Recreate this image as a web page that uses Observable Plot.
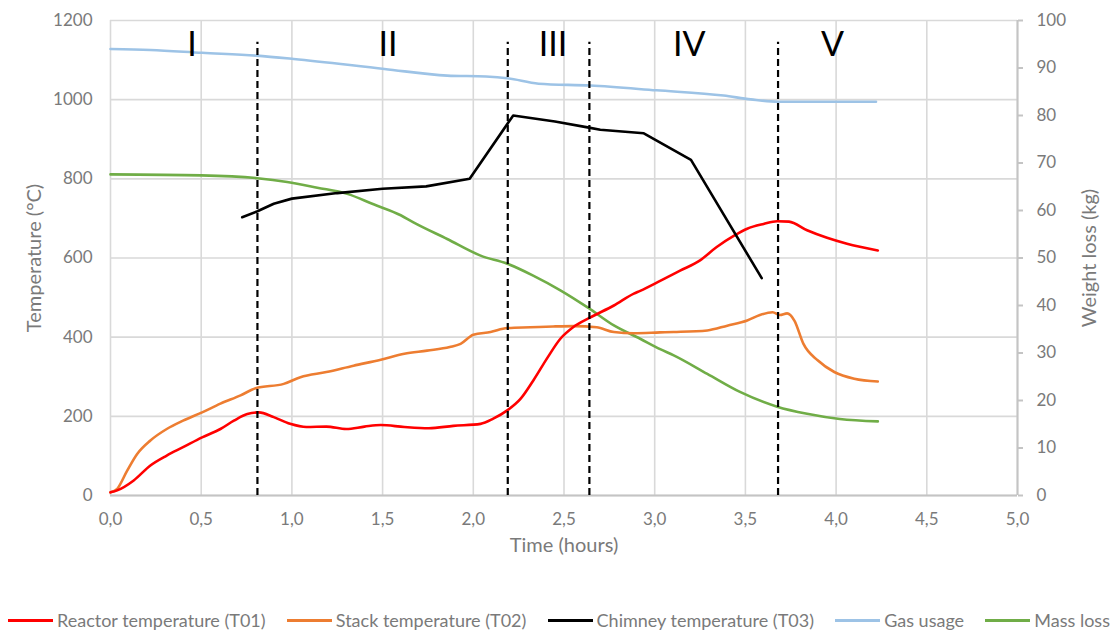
<!DOCTYPE html>
<html>
<head>
<meta charset="utf-8">
<script src="https://cdn.jsdelivr.net/npm/d3@7"></script>
<script src="https://cdn.jsdelivr.net/npm/@observablehq/plot@0.6"></script>
<style>
  body { margin: 0; background: #fff; font-family: Lato, "Open Sans", sans-serif; }
  #chart { position: relative; width: 1114px; height: 633px; }
  .legend {
    position: absolute; left: 8px; right: 4px; top: 609px; height: 22px;
    display: flex; justify-content: space-between; align-items: center;
    font-size: 18px; color: #7a7a7a;
  }
  .item { display: flex; align-items: center; white-space: nowrap; }
  .sw { width: 45px; height: 3px; margin-right: 4px; }
</style>
</head>
<body>
<div id="chart"></div>
<script>
// Time in hours, temperatures in °C (left axis)
const reactorTemp = [
  [0, 8], [0.037, 13], [0.128, 38], [0.22, 76], [0.31, 101], [0.40, 122], [0.505, 147],
  [0.606, 168], [0.68, 189], [0.754, 206], [0.818, 210], [0.90, 198], [0.99, 181],
  [1.08, 173], [1.19, 174], [1.30, 168], [1.40, 174], [1.49, 178], [1.62, 173],
  [1.755, 170], [1.89, 176], [2.04, 181], [2.11, 194], [2.187, 215], [2.26, 244],
  [2.33, 290], [2.41, 349], [2.48, 396], [2.55, 425], [2.646, 450], [2.775, 480],
  [2.885, 510], [2.92, 517], [3.03, 542], [3.14, 568], [3.25, 594], [3.34, 627],
  [3.44, 657], [3.51, 674], [3.60, 686], [3.675, 693], [3.74, 692], [3.84, 670],
  [3.95, 651], [4.06, 636], [4.23, 619]
];
const stackTemp = [
  [0, 8], [0.037, 17], [0.092, 63], [0.147, 105], [0.22, 139], [0.31, 168], [0.40, 189],
  [0.505, 210], [0.606, 232], [0.717, 253], [0.80, 271], [0.955, 282], [1.047, 299],
  [1.19, 312], [1.34, 328], [1.49, 343], [1.62, 358], [1.745, 366], [1.87, 375],
  [1.93, 383], [2.0, 406], [2.095, 413], [2.187, 423], [2.315, 425], [2.44, 427],
  [2.555, 428], [2.68, 425], [2.775, 413], [2.885, 410], [3.03, 412], [3.105, 413],
  [3.29, 417], [3.40, 429], [3.51, 442], [3.58, 456], [3.65, 463], [3.69, 456],
  [3.73, 460], [3.77, 442], [3.82, 383], [3.90, 341], [3.99, 312], [4.10, 295], [4.23, 288]
];
const chimneyTemp = [
  [0.726, 703], [0.81, 718], [0.90, 737], [1.0, 750], [1.25, 764], [1.5, 775], [1.74, 781],
  [1.98, 800], [2.22, 960], [2.45, 945], [2.63, 930], [2.70, 924], [2.94, 915],
  [3.20, 848], [3.59, 549]
];
// Time in hours, masses in kg (right axis)
const gasUsage = [
  [0, 94.0], [0.22, 93.8], [0.505, 93.2], [0.805, 92.6], [1.01, 91.9], [1.51, 89.8],
  [1.856, 88.4], [2.07, 88.2], [2.187, 87.85], [2.36, 86.7], [2.645, 86.3], [3.01, 85.3],
  [3.38, 84.2], [3.53, 83.4], [3.68, 82.9], [4.22, 82.9]
];
const massLoss = [
  [0, 67.6], [0.5, 67.4], [0.81, 66.8], [0.974, 66.0], [1.14, 64.8], [1.305, 63.5],
  [1.45, 61.3], [1.60, 59.0], [1.67, 57.5], [1.856, 54.0], [2.04, 50.5], [2.187, 48.8],
  [2.33, 46.3], [2.48, 43.2], [2.63, 39.6], [2.775, 35.8], [2.92, 33.0], [3.03, 30.8],
  [3.105, 29.5], [3.29, 25.6], [3.47, 21.8], [3.675, 18.7], [3.84, 17.2], [4.02, 16.1],
  [4.23, 15.6]
];

// Process stages: boundaries (h) and label positions (h)
const stageBounds = [0.81, 2.19, 2.64, 3.68];
const stageNames = ["I", "II", "III", "IV", "V"];
const stageLabelTimes = [0.45, 1.53, 2.44, 3.19, 3.98];

const timeTicks = [0, 0.5, 1, 1.5, 2, 2.5, 3, 3.5, 4, 4.5, 5];
const tempTicks = [0, 200, 400, 600, 800, 1000, 1200];
const massTicks = [0, 10, 20, 30, 40, 50, 60, 70, 80, 90, 100];

const series = [
  {name: "Reactor temperature (T01)", color: "#ff0000"},
  {name: "Stack temperature (T02)", color: "#ed7d31"},
  {name: "Chimney temperature (T03)", color: "#000000"},
  {name: "Gas usage", color: "#9dc3e6"},
  {name: "Mass loss", color: "#70ad47"}
];

// The secondary axis (0–100 kg) spans the same height as 0–1200 °C
const tempMax = 1200, massMax = 100;
const kgToTemp = tempMax / massMax;

const comma = d => d.toFixed(1).replace(".", ",");
const grey = "#7a7a7a";

const lineOpts = (color, curve) => ({
  x: d => d[0], y: d => d[1], stroke: color, strokeWidth: 2.6, curve
});
const kgLineOpts = (color) => ({
  x: d => d[0], y: d => d[1] * kgToTemp, stroke: color, strokeWidth: 2.6, curve: "monotone-x"
});

const plot = Plot.plot({
  width: 1114,
  height: 590,
  marginLeft: 110,
  marginRight: 97,
  marginTop: 20,
  marginBottom: 95,
  x: {domain: [0, 5]},
  y: {domain: [0, tempMax]},
  style: {fontFamily: "Lato, 'Open Sans', sans-serif", fontSize: "17px", color: grey, background: "#fff"},
  marks: [
    Plot.gridX(timeTicks, {stroke: "#d9d9d9", strokeOpacity: 1, strokeWidth: 1.6}),
    Plot.gridY(tempTicks, {stroke: "#d9d9d9", strokeOpacity: 1, strokeWidth: 1.6}),
    Plot.ruleY([0], {stroke: "#c4c4c4", strokeWidth: 2}),
    Plot.ruleX([5], {stroke: "#c4c4c4", strokeWidth: 2}),
    Plot.axisX(timeTicks, {tickSize: 0, tickPadding: 17, tickFormat: comma, fill: grey, label: null}),
    Plot.axisY(tempTicks, {anchor: "left", tickSize: 0, tickPadding: 18, tickFormat: d => String(d), fill: grey, label: null}),
    Plot.axisY(massTicks.map(v => v * kgToTemp), {
      anchor: "right", tickSize: 5, tickPadding: 14, stroke: "#c4c4c4", strokeWidth: 2,
      fill: grey, tickFormat: v => String(Math.round(v / kgToTemp)), label: null
    }),
    Plot.text(["Time (hours)"], {frameAnchor: "bottom", dy: 56, fill: grey, fontSize: 20}),
    Plot.text(["Temperature (°C)"], {frameAnchor: "left", dx: -76, rotate: -90, textAnchor: "middle", fill: grey, fontSize: 20}),
    Plot.text(["Weight loss (kg)"], {frameAnchor: "right", dx: 72, rotate: -90, textAnchor: "middle", fill: grey, fontSize: 20}),
    Plot.line(gasUsage, kgLineOpts(series[3].color)),
    Plot.line(massLoss, kgLineOpts(series[4].color)),
    Plot.line(stackTemp, lineOpts(series[1].color, "monotone-x")),
    Plot.line(reactorTemp, lineOpts(series[0].color, "monotone-x")),
    Plot.line(chimneyTemp, lineOpts(series[2].color, "linear")),
    Plot.ruleX(stageBounds, {y1: 0, y2: 1145, stroke: "#000", strokeWidth: 2.2, strokeDasharray: "7,4"}),
    Plot.text(stageNames, {
      x: (d, i) => stageLabelTimes[i], y: 1137, fill: "#000", fontSize: 34, lineAnchor: "middle"
    })
  ]
});

const chart = document.getElementById("chart");
chart.appendChild(plot);

const legend = document.createElement("div");
legend.className = "legend";
for (const s of series) {
  const item = document.createElement("div");
  item.className = "item";
  const sw = document.createElement("span");
  sw.className = "sw";
  sw.style.background = s.color;
  const label = document.createElement("span");
  label.textContent = s.name;
  item.append(sw, label);
  legend.appendChild(item);
}
chart.appendChild(legend);
</script>
</body>
</html>
